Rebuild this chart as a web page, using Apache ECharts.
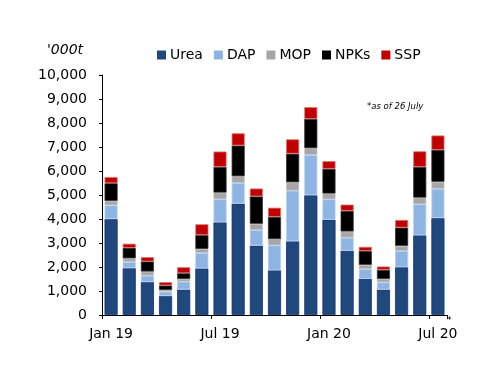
<!DOCTYPE html>
<html>
<head>
<meta charset="utf-8">
<script src="https://cdn.jsdelivr.net/npm/echarts@6/dist/echarts.min.js"></script>
<style>html,body{margin:0;padding:0;background:#fff}#c{width:500px;height:386px}</style>
</head>
<body>
<div id="c"></div>
<script>
var categories = ['Jan 19','Feb 19','Mar 19','Apr 19','May 19','Jun 19','Jul 19','Aug 19','Sep 19','Oct 19','Nov 19','Dec 19','Jan 20','Feb 20','Mar 20','Apr 20','May 20','Jun 20','Jul 20'];
var urea = [4000,1950,1370,790,1060,1940,3860,4640,2890,1860,3070,4990,3970,2680,1510,1060,1990,3320,4040];
var dap  = [570,260,270,180,330,640,960,860,650,1040,2110,1680,850,540,400,300,680,1290,1220];
var mop  = [180,150,170,70,110,170,280,280,260,260,350,280,240,260,180,140,210,280,290];
var npks = [740,440,420,190,240,580,1070,1280,1140,930,1190,1220,1030,860,580,380,760,1280,1330];
var ssp  = [260,170,180,140,250,450,640,510,330,380,600,490,320,260,170,140,320,650,600];
var yTicks = [0,1000,2000,3000,4000,5000,6000,7000,8000,9000,10000];
var legendNames = ['Urea','DAP','MOP','NPKs','SSP'];
var colors = ['#1F497D','#8DB4E2','#A6A6A6','#000000','#C00000'];

var FONT = 'DejaVu Sans';
var chart = echarts.init(document.getElementById('c'));
function ser(name, data, color, border) {
  return {
    name: name, type: 'bar', stack: 'total', data: data,
    barCategoryGap: '28%',
    itemStyle: { color: color, borderColor: border, borderWidth: 0.8 },
    emphasis: { disabled: true }
  };
}
chart.setOption({
  animation: false,
  textStyle: { fontFamily: FONT },
  grid: { left: 102, right: 53, top: 75, bottom: 71 },
  legend: {
    left: 152, top: 43,
    itemWidth: 9, itemHeight: 9, itemGap: 11,
    icon: 'path://M0,0L10,0L10,10L0,10Z',
    textStyle: { fontFamily: FONT, fontSize: 14, color: '#000', padding: [0,0,0,-1] },
    data: legendNames.map(function (n, i) {
      return { name: n, itemStyle: { color: colors[i], borderWidth: 0 } };
    })
  },
  xAxis: {
    type: 'category', data: categories,
    axisLine: { lineStyle: { color: '#000', width: 1 } },
    axisTick: { show: true, interval: 5, length: 4, lineStyle: { color: '#000' } },
    axisLabel: { interval: 5, margin: 12, fontFamily: FONT, fontSize: 14, color: '#000' }
  },
  yAxis: {
    type: 'value', min: yTicks[0], max: yTicks[yTicks.length-1], interval: 1000,
    splitLine: { show: false },
    axisLine: { show: true, lineStyle: { color: '#000', width: 1 } },
    axisTick: { show: true, length: 3, lineStyle: { color: '#000' } },
    axisLabel: { margin: 15, fontFamily: FONT, fontSize: 14, color: '#000',
      formatter: function (v) { return v.toLocaleString('en-US'); } }
  },
  graphic: [
    { type: 'text', left: 47, top: 43, style: { text: "'000t", fontFamily: FONT, fontSize: 14, fontStyle: 'italic', fill: '#000' } },
    { type: 'text', left: 367, top: 102, style: { text: '*as of 26 July', fontFamily: FONT, fontSize: 8.5, fontStyle: 'italic', fill: '#000' } },
    { type: 'text', left: 447, top: 316, style: { text: '*', fontFamily: FONT, fontSize: 9, fill: '#000' } }
  ],
  series: [
    ser('Urea', urea, colors[0], '#13307a'),
    ser('DAP', dap, colors[1], '#b8d0ee'),
    ser('MOP', mop, colors[2], '#c4c4c4'),
    ser('NPKs', npks, colors[3], '#333333'),
    ser('SSP', ssp, colors[4], '#e07070')
  ]
});
</script>
</body>
</html>
